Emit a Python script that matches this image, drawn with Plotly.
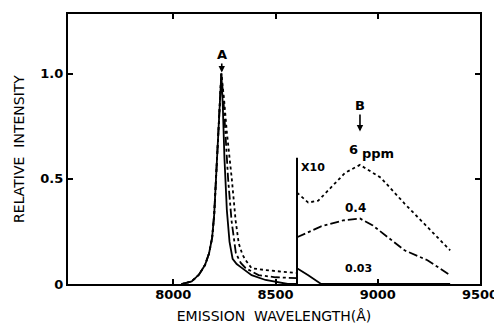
import plotly.graph_objects as go

# ---------------- data ----------------
# shared rising (short-wavelength) flank of peak A
flank_wl = [8040, 8090, 8126, 8155, 8175, 8190, 8200, 8212, 8226, 8235]
flank_int = [0.0, 0.012, 0.045, 0.09, 0.146, 0.22, 0.33, 0.54, 0.79, 1.0]

# falling flank per concentration (relative intensity, x1)
solid_wl = [8242, 8250, 8262, 8275, 8290, 8310, 8330, 8383, 8451, 8515, 8560, 8605]
solid_int = [0.85, 0.6, 0.35, 0.2, 0.12, 0.095, 0.08, 0.042, 0.019, 0.008, 0.0, 0.0]
dashdot_wl = [8245, 8255, 8268, 8285, 8306, 8330, 8354, 8417, 8500, 8605]
dashdot_int = [0.88, 0.7, 0.5, 0.3, 0.146, 0.1, 0.075, 0.042, 0.032, 0.028]
dotted_wl = [8248, 8262, 8286, 8305, 8320, 8338, 8354, 8383, 8451, 8530, 8605]
dotted_int = [0.88, 0.72, 0.5, 0.3, 0.193, 0.14, 0.113, 0.075, 0.066, 0.058, 0.052]

# x10 expanded region (band B), values as drawn
b6_wl = [8605, 8660, 8709, 8757, 8840, 8913, 9015, 9131, 9243, 9354]
b6_int = [0.434, 0.387, 0.396, 0.443, 0.528, 0.566, 0.505, 0.382, 0.269, 0.160]
b04_wl = [8605, 8723, 8830, 8913, 8976, 9049, 9131, 9243, 9354]
b04_int = [0.222, 0.274, 0.302, 0.311, 0.278, 0.222, 0.160, 0.113, 0.042]
b003_wl = [8605, 8660, 8723, 9354]
b003_int = [0.075, 0.042, 0.0, 0.0]

inset_x = 8605
inset_top = 0.6

x_ticks = [8000, 8500, 9000, 9500]
y_ticks = [0, 0.5, 1.0]
y_tick_text = ["0", "0.5", "1.0"]

# ---------------- figure ----------------
FONT = "DejaVu Sans"
fig = go.Figure()

def add(x, y, dash):
    fig.add_trace(go.Scatter(x=x, y=y, mode="lines",
                             line=dict(color="black", width=1.8, dash=dash),
                             hoverinfo="skip", showlegend=False))

add(flank_wl + solid_wl, flank_int + solid_int, "solid")
add(flank_wl + dashdot_wl, flank_int + dashdot_int, "dashdot")
add(flank_wl + dotted_wl, flank_int + dotted_int, "dot")
add(b6_wl, b6_int, "dot")
add(b04_wl, b04_int, "dashdot")
add(b003_wl, b003_int, "solid")

# x10 separator line
fig.add_trace(go.Scatter(x=[inset_x, inset_x], y=[0, inset_top], mode="lines",
                         line=dict(color="black", width=2),
                         hoverinfo="skip", showlegend=False))

ann_font = dict(family=FONT, size=13, color="black", weight="bold")
annotations = [
    dict(x=8237, y=1.005, text="A", showarrow=True, ax=0, ay=-18,
         arrowhead=2, arrowsize=0.8, arrowwidth=1.6, arrowcolor="black",
         standoff=0, font=ann_font),
    dict(x=8913, y=0.725, text="B", showarrow=True, ax=0, ay=-26,
         arrowhead=2, arrowsize=0.8, arrowwidth=1.6, arrowcolor="black",
         standoff=0, font=ann_font),
    dict(x=8615, y=0.555, text="X10", showarrow=False, xanchor="left",
         font=dict(family=FONT, size=11, color="black", weight="bold")),
    dict(x=8882, y=0.64, text="6", showarrow=False, xanchor="center",
         font=dict(family=FONT, size=13, color="black", weight="bold")),
    dict(x=8915, y=0.622, text="ppm", showarrow=False, xanchor="left",
         font=dict(family=FONT, size=13, color="black", weight="bold")),
    dict(x=8890, y=0.36, text="0.4", showarrow=False,
         font=dict(family=FONT, size=12, color="black", weight="bold")),
    dict(x=8905, y=0.075, text="0.03", showarrow=False,
         font=dict(family=FONT, size=11, color="black", weight="bold")),
]

fig.update_layout(
    width=494, height=327,
    margin=dict(l=60, r=19, t=4, b=51),
    paper_bgcolor="white", plot_bgcolor="white",
    font=dict(family=FONT, color="black"),
    annotations=annotations,
    xaxis=dict(range=[7485, 9500], tickvals=x_ticks,
               ticktext=[str(v) for v in x_ticks],
               ticks="inside", ticklen=5, tickwidth=1.5, tickcolor="black",
               showline=True, linecolor="black", linewidth=2.2, mirror="ticks",
               showgrid=False, zeroline=False, ticklabelstandoff=-3,
               tickfont=dict(family=FONT, size=13, color="black", weight="bold"),
               title=dict(text="EMISSION\u00a0\u00a0WAVELENGTH(Å)", standoff=10,
                          font=dict(family=FONT, size=14, color="black"))),
    yaxis=dict(range=[0, 1.283], tickvals=y_ticks, ticktext=y_tick_text,
               ticks="inside", ticklen=5, tickwidth=1.5, tickcolor="black",
               showline=True, linecolor="black", linewidth=2.2,
               mirror="ticks", showgrid=False, zeroline=False,
               tickfont=dict(family=FONT, size=13, color="black", weight="bold"),
               title=dict(text="RELATIVE\u00a0\u00a0INTENSITY", standoff=12,
                          font=dict(family=FONT, size=14, color="black"))),
)

fig.write_html("out.html")
